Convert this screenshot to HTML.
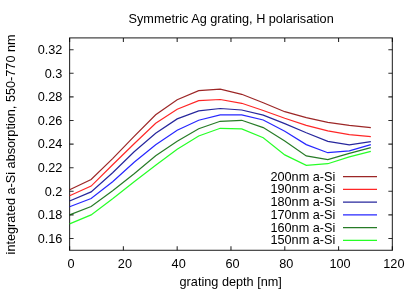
<!DOCTYPE html><html><head><meta charset="utf-8"><style>html,body{margin:0;padding:0;background:#fff;}body{width:415px;height:291px;overflow:hidden;}svg{display:block;will-change:transform;}text{font-family:"Liberation Sans",sans-serif;font-size:12.7px;fill:#000;}</style></head><body>
<svg width="415" height="291" viewBox="0 0 415 291">
<rect width="415" height="291" fill="#fff"/>
<path d="M69.60 238.50h4.0M392.35 238.50h-4.0M69.60 214.90h4.0M392.35 214.90h-4.0M69.60 191.30h4.0M392.35 191.30h-4.0M69.60 167.70h4.0M392.35 167.70h-4.0M69.60 144.10h4.0M392.35 144.10h-4.0M69.60 120.50h4.0M392.35 120.50h-4.0M69.60 96.90h4.0M392.35 96.90h-4.0M69.60 73.30h4.0M392.35 73.30h-4.0M69.60 49.70h4.0M392.35 49.70h-4.0M69.60 250.30v-4.0M69.60 37.90v4.0M123.39 250.30v-4.0M123.39 37.90v4.0M177.18 250.30v-4.0M177.18 37.90v4.0M230.97 250.30v-4.0M230.97 37.90v4.0M284.77 250.30v-4.0M284.77 37.90v4.0M338.56 250.30v-4.0M338.56 37.90v4.0M392.35 250.30v-4.0M392.35 37.90v4.0" stroke="#000" stroke-opacity="0.82" stroke-width="1.1" fill="none"/>
<rect x="69.6" y="37.9" width="322.75" height="212.40" fill="none" stroke="#000" stroke-opacity="0.82" stroke-width="1.1"/>
<polyline points="69.60,189.70 91.12,179.50 112.63,158.60 134.15,136.30 155.67,114.80 177.18,99.70 198.70,90.70 220.22,89.10 241.73,94.30 263.25,102.80 284.77,111.70 306.28,117.70 327.80,122.30 349.32,125.30 370.83,127.70" fill="none" stroke="#8b0000" stroke-width="1.2" stroke-opacity="0.85" stroke-linejoin="miter"/>
<polyline points="69.60,195.70 91.12,186.10 112.63,164.80 134.15,143.80 155.67,123.30 177.18,109.30 198.70,100.70 220.22,99.50 241.73,103.30 263.25,110.50 284.77,118.30 306.28,125.30 327.80,130.90 349.32,134.70 370.83,136.70" fill="none" stroke="#ff0000" stroke-width="1.2" stroke-opacity="0.85" stroke-linejoin="miter"/>
<polyline points="69.60,201.00 91.12,191.90 112.63,172.80 134.15,151.80 155.67,133.30 177.18,118.90 198.70,110.90 220.22,108.50 241.73,110.00 263.25,115.10 284.77,123.60 306.28,132.80 327.80,141.30 349.32,144.90 370.83,141.70" fill="none" stroke="#00008b" stroke-width="1.2" stroke-opacity="0.85" stroke-linejoin="miter"/>
<polyline points="69.60,206.70 91.12,198.50 112.63,181.80 134.15,162.30 155.67,144.70 177.18,130.30 198.70,120.20 220.22,114.90 241.73,114.90 263.25,120.00 284.77,131.30 306.28,144.60 327.80,152.70 349.32,150.90 370.83,144.70" fill="none" stroke="#0000ff" stroke-width="1.2" stroke-opacity="0.85" stroke-linejoin="miter"/>
<polyline points="69.60,214.90 91.12,206.50 112.63,190.80 134.15,173.80 155.67,155.80 177.18,141.30 198.70,128.80 220.22,121.30 241.73,120.30 263.25,127.60 284.77,140.90 306.28,155.90 327.80,159.70 349.32,153.30 370.83,147.70" fill="none" stroke="#006400" stroke-width="1.2" stroke-opacity="0.85" stroke-linejoin="miter"/>
<polyline points="69.60,223.90 91.12,214.90 112.63,198.80 134.15,181.80 155.67,165.30 177.18,149.30 198.70,136.00 220.22,128.30 241.73,128.90 263.25,137.80 284.77,154.90 306.28,165.30 327.80,163.70 349.32,156.90 370.83,151.30" fill="none" stroke="#00ff00" stroke-width="1.2" stroke-opacity="0.85" stroke-linejoin="miter"/>
<text transform="translate(335.30,180.55) scale(1.0,1)" text-anchor="end">200nm a-Si</text>
<path d="M343 176.65H377" stroke="#8b0000" stroke-width="1.2" stroke-opacity="0.85" fill="none"/>
<text transform="translate(335.30,193.29) scale(1.0,1)" text-anchor="end">190nm a-Si</text>
<path d="M343 189.39H377" stroke="#ff0000" stroke-width="1.2" stroke-opacity="0.85" fill="none"/>
<text transform="translate(335.30,206.03) scale(1.0,1)" text-anchor="end">180nm a-Si</text>
<path d="M343 202.13H377" stroke="#00008b" stroke-width="1.2" stroke-opacity="0.85" fill="none"/>
<text transform="translate(335.30,218.77) scale(1.0,1)" text-anchor="end">170nm a-Si</text>
<path d="M343 214.87H377" stroke="#0000ff" stroke-width="1.2" stroke-opacity="0.85" fill="none"/>
<text transform="translate(335.30,231.51) scale(1.0,1)" text-anchor="end">160nm a-Si</text>
<path d="M343 227.61H377" stroke="#006400" stroke-width="1.2" stroke-opacity="0.85" fill="none"/>
<text transform="translate(335.30,244.25) scale(1.0,1)" text-anchor="end">150nm a-Si</text>
<path d="M343 240.35H377" stroke="#00ff00" stroke-width="1.2" stroke-opacity="0.85" fill="none"/>
<text transform="translate(62.40,242.70) scale(1.0,1)" text-anchor="end">0.16</text>
<text transform="translate(62.40,219.10) scale(1.0,1)" text-anchor="end">0.18</text>
<text transform="translate(62.40,195.50) scale(1.0,1)" text-anchor="end">0.2</text>
<text transform="translate(62.40,171.90) scale(1.0,1)" text-anchor="end">0.22</text>
<text transform="translate(62.40,148.30) scale(1.0,1)" text-anchor="end">0.24</text>
<text transform="translate(62.40,124.70) scale(1.0,1)" text-anchor="end">0.26</text>
<text transform="translate(62.40,101.10) scale(1.0,1)" text-anchor="end">0.28</text>
<text transform="translate(62.40,77.50) scale(1.0,1)" text-anchor="end">0.3</text>
<text transform="translate(62.40,53.90) scale(1.0,1)" text-anchor="end">0.32</text>
<text transform="translate(71.10,267.80) scale(1.0,1)" text-anchor="middle">0</text>
<text transform="translate(124.89,267.80) scale(1.0,1)" text-anchor="middle">20</text>
<text transform="translate(178.68,267.80) scale(1.0,1)" text-anchor="middle">40</text>
<text transform="translate(232.47,267.80) scale(1.0,1)" text-anchor="middle">60</text>
<text transform="translate(286.27,267.80) scale(1.0,1)" text-anchor="middle">80</text>
<text transform="translate(340.06,267.80) scale(1.0,1)" text-anchor="middle">100</text>
<text transform="translate(393.85,267.80) scale(1.0,1)" text-anchor="middle">120</text>
<text transform="translate(230.70,286.20) scale(1.0,1)" text-anchor="middle">grating depth [nm]</text>
<text transform="translate(231.10,23.10) scale(1.0,1)" text-anchor="middle">Symmetric Ag grating, H polarisation</text>
<text transform="translate(15.00,144.40) rotate(-90) scale(1.0,1)" text-anchor="middle">integrated a-Si absorption, 550-770 nm</text>
</svg></body></html>
